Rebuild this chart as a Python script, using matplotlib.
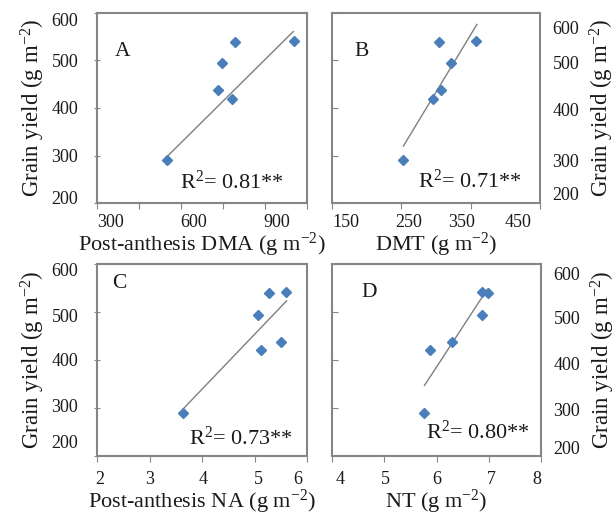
import matplotlib
matplotlib.use("Agg")
import matplotlib.pyplot as plt
import matplotlib.transforms as mtransforms

plt.rcParams['font.family'] = ['Liberation Serif', 'DejaVu Serif']
plt.rcParams['mathtext.fontset'] = 'custom'
plt.rcParams['mathtext.rm'] = 'Liberation Serif'
plt.rcParams['mathtext.it'] = 'Liberation Serif:italic'

# ---- data ----
grain_yield = [290, 420, 438, 494, 539, 541]
post_dma = [550, 782, 732, 746, 793, 1004]
dmt = [253, 296, 307, 321, 305, 357]
post_na = [3.64, 5.12, 5.50, 5.07, 5.28, 5.60]
nt = [5.77, 5.87, 6.30, 6.88, 6.99, 6.88]

trend_A_x = [549, 1001]
trend_A_y = [297, 561]
trend_B_x = [253, 359]
trend_B_y = [320, 576]
trend_C_x = [3.64, 5.61]
trend_C_y = [298, 523]
trend_D_x = [5.77, 6.97]
trend_D_y = [347, 547]

r2_labels = ['0.81', '0.71', '0.73', '0.80']
panel_letters = ['A', 'B', 'C', 'D']

y_ticks = [200, 300, 400, 500, 600]
xticks_A = [300, 450, 600, 750, 900, 1050]
xlabels_A = ['300', '', '600', '', '900', '']
xticks_B = [150, 250, 350, 450]
xticks_C = [2, 3, 4, 5, 6]
xticks_D = [4, 5, 6, 7, 8]

ylabel = 'Grain yield (g m$^{\\mathregular{-2}}$)'
xlabels = ['Post-anthesis DMA (g m$^{\\mathregular{-2}}$)',
           'DMT (g m$^{\\mathregular{-2}}$)',
           'Post-anthesis NA (g m$^{\\mathregular{-2}}$)',
           'NT (g m$^{\\mathregular{-2}}$)']

W, H = 616, 515
fig = plt.figure(figsize=(W / 100, H / 100), dpi=100)


def box(l, t, r, b):
    return [l / W, 1 - b / H, (r - l) / W, (b - t) / H]


axA = fig.add_axes(box(97, 13, 307, 203))
axB = fig.add_axes(box(332, 13, 540, 203))
axC = fig.add_axes(box(97, 264, 307, 456))
axD = fig.add_axes(box(332, 264, 541, 456))

marker_color = '#4A7EBB'
spine_color = '#868686'
text_color = '#1a1a1a'

panels = [
    (axA, post_dma, trend_A_x, trend_A_y, (300, 1050), xticks_A, xlabels_A, 'left'),
    (axB, dmt, trend_B_x, trend_B_y, (150, 450), xticks_B, [str(v) for v in xticks_B], 'right'),
    (axC, post_na, trend_C_x, trend_C_y, (2, 6), xticks_C, [str(v) for v in xticks_C], 'left'),
    (axD, nt, trend_D_x, trend_D_y, (4, 8), xticks_D, [str(v) for v in xticks_D], 'right'),
]

# (x position of letter, y of letter, right x of R2, baseline of R2) in axes fraction
text_pos = [
    (0.085, 0.80, 0.89, 0.075),
    (0.11, 0.80, 0.91, 0.08),
    (0.07, 0.90, 0.93, 0.06),
    (0.14, 0.85, 0.945, 0.09),
]

# tick-label nudges in pixels (x labels dx; y labels dy, + = down)
x_nudge = [
    [14, 0, 13, 0, 12, 0],
    [14, 7, -9, -22],
    [3, 0, 1, 4, -9],
    [8, 1, 0, 3, -4],
]
y_nudge = [
    [-6, 0, 0, 0, 7],
    [-10, 5, 2, 2, 14],
    [-14, -2, 0, 3, 6],
    [-9, 2, 3, 6, 10],
]

for i, (ax, xs, tx, ty, xlim, xt, xtl, side) in enumerate(panels):
    ax.plot(tx, ty, color='#7f7f7f', lw=1.0, zorder=2)
    ax.plot(xs, grain_yield, linestyle='none', marker='D', ms=5.0,
            color=marker_color, mec=marker_color, zorder=3)
    ax.set_xlim(*xlim)
    ax.set_ylim(200, 600)
    ax.set_xticks(xt)
    ax.set_xticklabels(xtl)
    ax.set_yticks(y_ticks)
    ax.set_yticklabels([str(v) for v in y_ticks])
    for s in ax.spines.values():
        s.set_color(spine_color)
        s.set_linewidth(1.5)
    if side == 'left':
        ax.tick_params(axis='y', direction='inout', length=5, width=0.8,
                       color=spine_color, labelsize=13, pad=11, labelcolor=text_color)
        ax.set_ylabel(ylabel, fontsize=16.5, color=text_color, labelpad=3)
    else:
        ax.yaxis.tick_right()
        ax.tick_params(axis='y', which='both', left=True, right=False,
                       labelleft=False, labelright=True, direction='in',
                       length=4, width=0.8, color=spine_color, labelsize=13,
                       pad=9, labelcolor=text_color)
        ax.yaxis.set_label_position('right')
        ax.set_ylabel(ylabel, fontsize=16.5, color=text_color, labelpad=6)
    xpad = 4 if i < 2 else 7
    ax.tick_params(axis='x', direction='out', length=4, width=0.8,
                   color=spine_color, labelsize=13, pad=xpad, labelcolor=text_color)
    ax.set_xlabel(xlabels[i], fontsize=16, color=text_color, labelpad=0)

    lx, ly, rx, rb = text_pos[i]
    ax.text(lx, ly, panel_letters[i], transform=ax.transAxes, fontsize=15.5,
            color=text_color, ha='left', va='center')
    ax.text(rx, rb, 'R$^{\\mathregular{2}}$= ' + r2_labels[i] + '**',
            transform=ax.transAxes, fontsize=16, color=text_color,
            ha='right', va='baseline')

    for lab, dx in zip(ax.get_xticklabels(), x_nudge[i]):
        lab.set_transform(lab.get_transform() +
                          mtransforms.ScaledTranslation(dx / 100, 0, fig.dpi_scale_trans))
    for lab, dy in zip(ax.get_yticklabels(), y_nudge[i]):
        lab.set_transform(lab.get_transform() +
                          mtransforms.ScaledTranslation(0, -dy / 100, fig.dpi_scale_trans))

fig.savefig('out.png', dpi=100, facecolor='white')
